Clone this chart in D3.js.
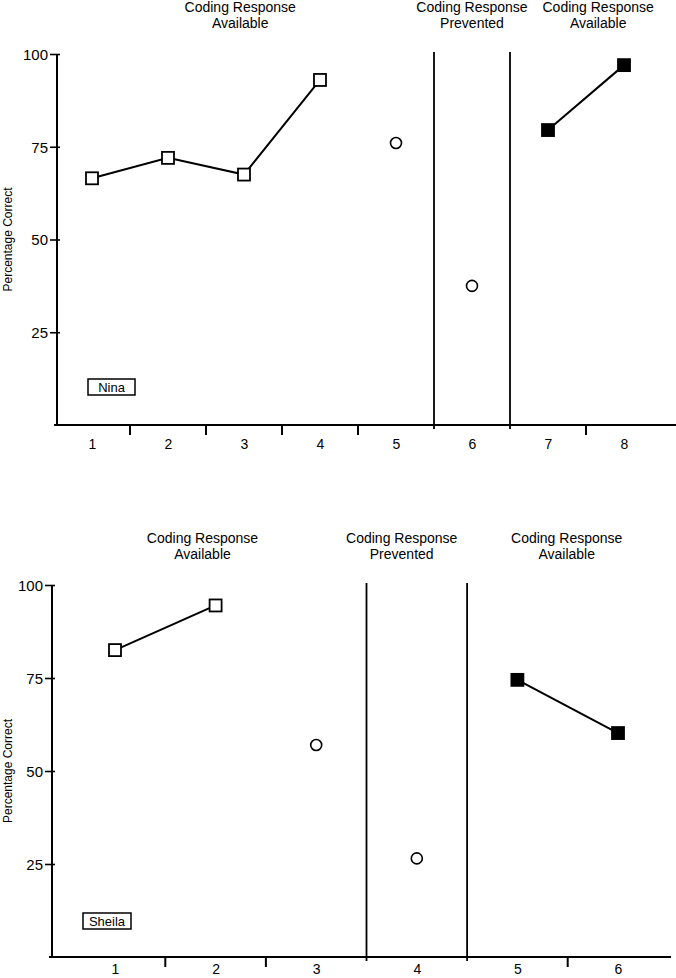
<!DOCTYPE html>
<html><head><meta charset="utf-8">
<script src="https://cdn.jsdelivr.net/npm/d3@7"></script>
<style>
html,body{margin:0;padding:0;background:#fff;}
text{font-family:"Liberation Sans",Arial,sans-serif;fill:#000;}
</style></head>
<body><svg id="c" width="676" height="978"></svg>
<script>
// ---------- DATA ----------
const ninaSessions = [1,2,3,4,5,6,7,8];
const ninaValues   = [66.5, 72, 67.5, 93, 76, 37.5, 79.5, 97];
const ninaMarkers  = ["open","open","open","open","circle","circle","filled","filled"];
const ninaLineSegments = [[1,2,3,4],[7,8]];
const ninaPhaseBreaks = [5,6];   // phase line after these sessions
const ninaPhaseLabels = ["Coding Response|Available","Coding Response|Prevented","Coding Response|Available"];

const sheilaSessions = [1,2,3,4,5,6];
const sheilaValues   = [82.5, 94.5, 57, 26.5, 74.5, 60.2];
const sheilaMarkers  = ["open","open","circle","circle","filled","filled"];
const sheilaLineSegments = [[1,2],[5,6]];
const sheilaPhaseBreaks = [3,4];
const sheilaPhaseLabels = ["Coding Response|Available","Coding Response|Prevented","Coding Response|Available"];

const yTicks = [25,50,75,100];
const yLabel = "Percentage Correct";

// ---------- LAYOUT ----------
const panels = [
  {name:"Nina", sessions:ninaSessions, values:ninaValues, markers:ninaMarkers, segs:ninaLineSegments,
   breaks:ninaPhaseBreaks, labels:ninaPhaseLabels,
   xr:[92,624], axisX:57, yTop:54, yBot:425, xEnd:676, labelPos:[2.95,6.0,7.66], titleY:12,
   box:[88,379,47,16], pad:14},
  {name:"Sheila", sessions:sheilaSessions, values:sheilaValues, markers:sheilaMarkers, segs:sheilaLineSegments,
   breaks:sheilaPhaseBreaks, labels:sheilaPhaseLabels,
   xr:[115,618], axisX:52, yTop:585, yBot:957, xEnd:671, labelPos:[1.87,3.85,5.49], titleY:543,
   box:[83,913,48,16], pad:7}
];

const svg = d3.select("#c");

panels.forEach(p => {
  const g = svg.append("g");
  const x = d3.scalePoint().domain(p.sessions).range(p.xr);
  const step = x.step();
  const xl = d3.scaleLinear().domain([p.sessions[0], p.sessions[p.sessions.length-1]]).range(p.xr);
  const y = d3.scaleLinear().domain([0,100]).range([p.yBot, p.yTop]);

  // y axis
  const ya = g.append("g").attr("transform",`translate(${p.axisX},0)`)
    .call(d3.axisLeft(y).tickValues(yTicks).tickSize(7).tickPadding(2).tickSizeOuter(0));
  ya.select(".domain").remove();
  ya.selectAll(".tick line").attr("stroke","#000").attr("stroke-width",1.6).attr("x2",-7).attr("x1",3);
  ya.selectAll(".tick text").style("font-size","15px").attr("dy","0.35em");
  g.append("line").attr("x1",p.axisX).attr("x2",p.axisX).attr("y1",y(100)).attr("y2",y(0))
    .attr("stroke","#000").attr("stroke-width",2);

  // x axis
  g.append("line").attr("x1",p.axisX-3).attr("x2",p.xEnd).attr("y1",y(0)).attr("y2",y(0))
    .attr("stroke","#000").attr("stroke-width",2);
  const xa = g.append("g").attr("transform",`translate(0,${y(0)})`)
    .call(d3.axisBottom(x).tickSize(0).tickPadding(p.pad));
  xa.select(".domain").remove();
  xa.selectAll(".tick text").style("font-size","14px");

  const boundaries = p.sessions.slice(0,-1);
  g.selectAll(".btick").data(boundaries.filter(s=>!p.breaks.includes(s))).join("line")
    .attr("x1",s=>x(s)+step/2).attr("x2",s=>x(s)+step/2)
    .attr("y1",y(0)).attr("y2",y(0)+10).attr("stroke","#000").attr("stroke-width",2);

  // phase lines
  g.selectAll(".phase").data(p.breaks).join("line")
    .attr("x1",s=>x(s)+step/2).attr("x2",s=>x(s)+step/2)
    .attr("y1",y(100)-2).attr("y2",y(0)+4).attr("stroke","#000").attr("stroke-width",1.8);

  // phase labels
  p.labels.forEach((lab,i) => {
    const t = g.append("text").attr("x",xl(p.labelPos[i])).attr("y",p.titleY)
      .attr("text-anchor","middle").style("font-size","14px");
    lab.split("|").forEach((ln,j)=> t.append("tspan").attr("x",xl(p.labelPos[i])).attr("dy", j===0?0:15.5).text(ln));
  });

  // y label
  g.append("text").attr("transform",`translate(12,${(y(0)+y(100))/2}) rotate(-90)`)
    .attr("text-anchor","middle").style("font-size","12px").text(yLabel);

  // name box
  g.append("rect").attr("x",p.box[0]).attr("y",p.box[1]).attr("width",p.box[2]).attr("height",p.box[3])
    .attr("fill","#fff").attr("stroke","#000").attr("stroke-width",1.5);
  g.append("text").attr("x",p.box[0]+p.box[2]/2).attr("y",p.box[1]+p.box[3]/2).attr("dy","0.36em")
    .attr("text-anchor","middle").style("font-size","13px").text(p.name);

  // lines
  const pts = p.sessions.map((s,i)=>({s, v:p.values[i], m:p.markers[i]}));
  const line = d3.line().x(d=>x(d.s)).y(d=>y(d.v));
  p.segs.forEach(seg => {
    g.append("path").datum(pts.filter(d=>seg.includes(d.s))).attr("d",line)
      .attr("fill","none").attr("stroke","#000").attr("stroke-width",2);
  });

  // markers
  const sq = 12;
  g.selectAll(".sq").data(pts.filter(d=>d.m!=="circle")).join("rect")
    .attr("x",d=>x(d.s)-sq/2).attr("y",d=>y(d.v)-sq/2).attr("width",sq).attr("height",sq)
    .attr("fill",d=>d.m==="filled"?"#000":"#fff").attr("stroke","#000").attr("stroke-width",1.8);
  g.selectAll(".ci").data(pts.filter(d=>d.m==="circle")).join("circle")
    .attr("cx",d=>x(d.s)).attr("cy",d=>y(d.v)).attr("r",5.5)
    .attr("fill","#fff").attr("stroke","#000").attr("stroke-width",1.6);
});
</script></body></html>
